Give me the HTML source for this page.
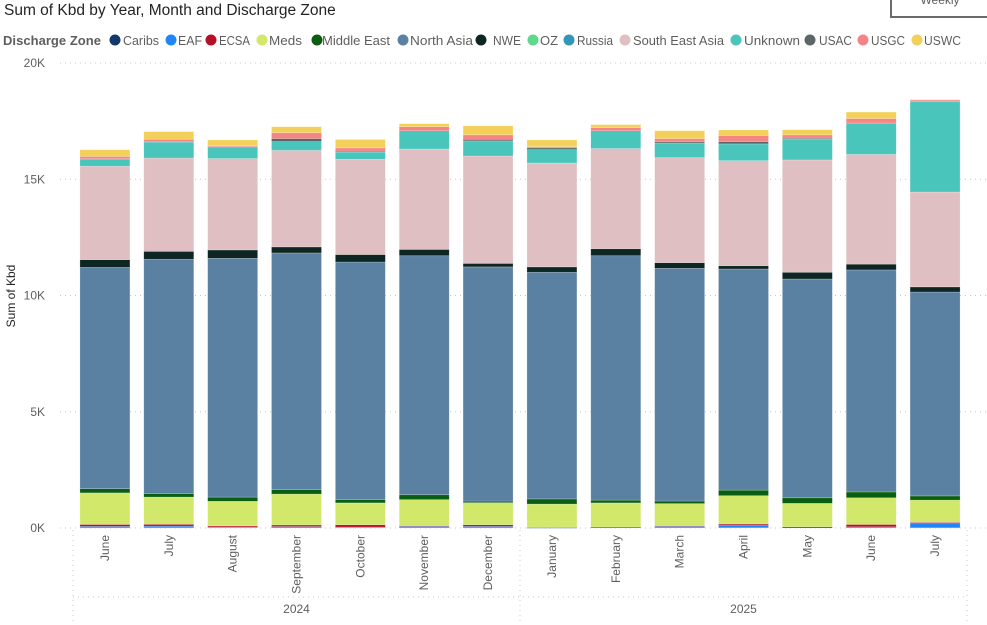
<!DOCTYPE html>
<html><head><meta charset="utf-8"><style>
body{margin:0;background:#fff;width:987px;height:625px;overflow:hidden;font-family:"Liberation Sans","DejaVu Sans",sans-serif}
svg{display:block}
</style></head><body>
<svg id="chart" width="987" height="625">
<text x="4" y="15" font-size="15.5" fill="#252423">Sum of Kbd by Year, Month and Discharge Zone</text>
<rect x="891" y="-4" width="100" height="21" fill="#fff" stroke="#6e6a67" stroke-width="2"/>
<text x="940" y="4" font-size="12" fill="#605e5c" text-anchor="middle">Weekly</text>
<text x="3" y="45" font-size="13" font-weight="bold" fill="#605e5c" textLength="98">Discharge Zone</text>
<g id="legend"></g>
<text transform="translate(15,296) rotate(-90)" font-size="12" fill="#252423" text-anchor="middle">Sum of Kbd</text>
<g id="grid"></g>
<g id="bars"></g>
<g id="xaxis"></g>
</svg>
<script>
const months=["June","July","August","September","October","November","December","January","February","March","April","May","June","July"];
const years=["2024","2025"];
const yearSpans=[7,7];
const zones=["Caribs","EAF","ECSA","Meds","Middle East","North Asia","NWE","OZ","Russia","South East Asia","Unknown","USAC","USGC","USWC"];
const zoneColors=["#12386b","#2186f5","#b5102a","#d2e86a","#0a5e12","#5a80a2","#0e2623","#5ed98c","#3395b8","#dfbfc1","#49c5bc","#5c6668","#f58585","#f3d05a"];
const yTicks=[0,5,10,15,20];
const yTickLabels=["0K","5K","10K","15K","20K"];
// values in K (thousands of Kbd), one array per zone, one entry per month
const caribs=[0.02,0.02,0.02,0.03,0.02,0.03,0.02,0.01,0.0,0.03,0.03,0.0,0.03,0.02];
const eaf=[0.05,0.06,0.02,0.03,0.02,0.04,0.05,0.03,0.0,0.04,0.08,0.0,0.02,0.20];
const ecsa=[0.08,0.08,0.05,0.07,0.10,0.03,0.07,0.0,0.04,0.03,0.06,0.05,0.10,0.03];
const meds=[1.36,1.17,1.06,1.33,0.94,1.12,0.95,0.99,1.04,0.95,1.22,1.01,1.15,0.95];
const middleEast=[0.18,0.15,0.18,0.19,0.14,0.21,0.07,0.22,0.12,0.11,0.24,0.24,0.25,0.18];
const northAsia=[9.52,10.08,10.27,10.18,10.22,10.28,10.07,9.75,10.51,10.01,9.51,9.41,9.55,8.77];
const nwe=[0.33,0.34,0.36,0.26,0.32,0.27,0.15,0.23,0.30,0.24,0.14,0.29,0.25,0.22];
const oz=[0,0,0,0,0,0,0,0,0,0,0,0,0,0];
const russia=[0,0,0,0,0,0,0,0,0,0,0,0,0,0];
const southEastAsia=[4.02,4.01,3.93,4.15,4.10,4.32,4.62,4.47,4.31,4.52,4.52,4.83,4.72,4.08];
const unknown=[0.30,0.69,0.48,0.38,0.31,0.75,0.65,0.57,0.73,0.63,0.72,0.90,1.32,3.89];
const usac=[0.02,0.02,0.03,0.13,0.04,0.04,0.07,0.08,0.04,0.06,0.10,0.04,0.03,0.0];
const usgc=[0.10,0.10,0.04,0.25,0.14,0.17,0.19,0.05,0.13,0.13,0.26,0.14,0.19,0.07];
const uswc=[0.29,0.33,0.25,0.26,0.36,0.13,0.39,0.29,0.13,0.34,0.24,0.22,0.28,0.02];
const series=[caribs,eaf,ecsa,meds,middleEast,northAsia,nwe,oz,russia,southEastAsia,unknown,usac,usgc,uswc];

const NS="http://www.w3.org/2000/svg";
function el(tag,attrs,parent){const e=document.createElementNS(NS,tag);for(const k in attrs)e.setAttribute(k,attrs[k]);parent.appendChild(e);return e;}
const plotL=73,plotR=967,y0=528,y20=63;
const yScale=v=>y0-(v/20)*(y0-y20);
const step=(plotR-plotL)/months.length;
const bw=50;
const xCenter=i=>plotL+step*(i+0.5);

// legend
const lg=document.getElementById('legend');
const legendX=[115,171,211,262,317,403,481,533,569,625,736,810,863,917];
const legendT=[123,178,219,269,322,410,493,540,577,633,744,819,871,924];
const legendW=[36,24,31,33,68,63,28,18,36,91,56,33,34,37];
zones.forEach((z,i)=>{
 const g=el('g',{},lg);
 
 
 el('circle',{cx:legendX[i],cy:40,r:5.5,fill:zoneColors[i]},g);
 const t=el('text',{x:legendT[i],y:45,'font-size':13,fill:'#605e5c',textLength:legendW[i],lengthAdjust:'spacingAndGlyphs'},g);t.textContent=z;
});

// grid + y ticks
const gr=document.getElementById('grid');
yTicks.forEach((v,i)=>{
 const l=el('line',{x1:60,x2:plotR+20,y1:yScale(v),y2:yScale(v),stroke:'#c8c6c4','stroke-dasharray':'1,4'},gr);
 
 
 const t=el('text',{x:45,y:yScale(v)+4,'font-size':12,fill:'#605e5c','text-anchor':'end'},gr);
 
 
 t.textContent=yTickLabels[i];
});

// bars
const bg=document.getElementById('bars');
months.forEach((m,i)=>{
 let cum=0;
 series.forEach((s,j)=>{
  const v=s[i]; if(v<=0){return;}
  const yt=yScale(cum+v), yb=yScale(cum);
  const r=el('rect',{x:xCenter(i)-bw/2,y:yt,width:bw,height:Math.max(yb-yt,0.5),fill:zoneColors[j],stroke:'rgba(255,255,255,0.35)','stroke-width':0.6},bg);
  
  
  cum+=v;
 });
});

// x axis
const xa=document.getElementById('xaxis');
months.forEach((m,i)=>{
 const t=el('text',{transform:`translate(${xCenter(i)+4},535) rotate(-90)`,'font-size':12,fill:'#605e5c','text-anchor':'end'},xa);
 
 
 t.textContent=m;
});
let start=0;
const seps=[plotL];
years.forEach((y,k)=>{
 const a=plotL+step*start,b=plotL+step*(start+yearSpans[k]);
 seps.push(b);
 const t=el('text',{x:(a+b)/2,y:613,'font-size':12,fill:'#605e5c','text-anchor':'middle'},xa);
 
 
 t.textContent=y;
 start+=yearSpans[k];
});
seps.forEach(x=>{
 const l=el('line',{x1:x,x2:x,y1:530,y2:625,stroke:'#c8c6c4','stroke-dasharray':'1,4'},xa);
 
 
});
const hl=el('line',{x1:plotL,x2:plotR,y1:597,y2:597,stroke:'#c8c6c4','stroke-dasharray':'1,4'},xa);


</script>
</body></html>
